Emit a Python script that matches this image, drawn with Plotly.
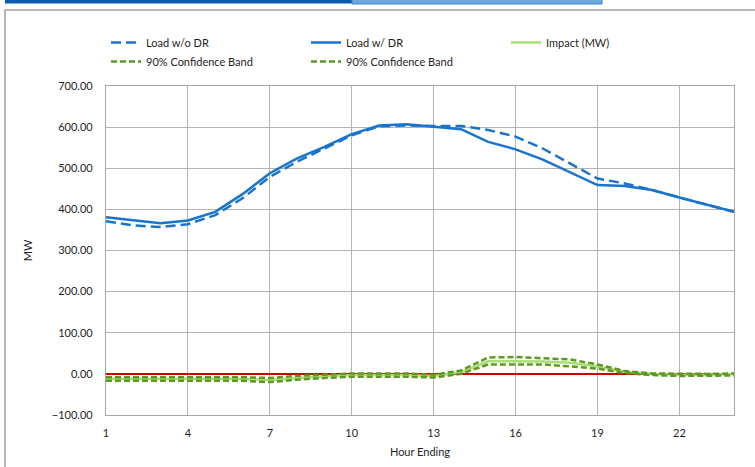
import plotly.graph_objects as go

# Hourly load profile (MW) for hour ending 1..24
hours = list(range(1, 25))
load_without_dr = [371, 361, 357, 364, 386, 427, 479, 516, 548, 580, 602, 604,
                   603, 603, 593, 577, 548, 512, 475, 463, 447, 429, 412, 394]
load_with_dr = [381, 373, 366, 373, 394, 437, 488, 524, 552, 583, 604, 607,
                601, 595, 564, 546, 521, 491, 459, 457, 447, 429, 412, 394]
impact_mw = [-12, -12, -12, -12, -12, -12, -15, -10, -6, -3, -3, -3,
             -5, 4, 31, 31, 30, 27, 18, 5, 0, -2, -2, 0]
band_upper = [-8, -8, -8, -8, -8, -8, -10, -5, -2, 1, 1, 1,
              -2, 8, 40, 41, 38, 35, 23, 7, 1, 0, 0, 1]
band_lower = [-17, -17, -17, -17, -17, -17, -20, -14, -10, -7, -7, -7,
              -9, 0, 23, 23, 23, 18, 13, 2, -3, -5, -5, -4]

x_ticks = [1, 4, 7, 10, 13, 16, 19, 22]
y_ticks = [-100, 0, 100, 200, 300, 400, 500, 600, 700]

BLUE = "#1874cd"
LIGHT_GREEN = "#a9de74"
DARK_GREEN = "#5b9a1f"
RED = "#d40000"
GRID = "#b4b4b4"
FONT = "Lato"

W, H = 755, 467
ML, MR, MT, MB = 106, 21, 86, 52
PW, PH = W - ML - MR, H - MT - MB


def px(x):
    return (x - ML) / PW


def py(y):
    return (H - MB - y) / PH


fig = go.Figure()
fig.add_trace(go.Scatter(x=hours, y=load_without_dr, name="Load w/o DR", mode="lines",
                         line=dict(color=BLUE, width=2.5, dash="10px,5px")))
fig.add_trace(go.Scatter(x=hours, y=load_with_dr, name="Load w/ DR", mode="lines",
                         line=dict(color=BLUE, width=2.5)))
fig.add_trace(go.Scatter(x=hours, y=impact_mw, name="Impact (MW)", mode="lines",
                         line=dict(color=LIGHT_GREEN, width=2.5)))
fig.add_trace(go.Scatter(x=hours, y=band_upper, name="90% Confidence Band", mode="lines",
                         line=dict(color=DARK_GREEN, width=2.5, dash="6px,3px")))
fig.add_trace(go.Scatter(x=hours, y=band_lower, name="90% Confidence Band", mode="lines",
                         line=dict(color=DARK_GREEN, width=2.5, dash="6px,3px")))

axis_common = dict(showline=True, linecolor="#a6a6a6", linewidth=1.2, mirror=True,
                   showgrid=True, gridcolor=GRID, gridwidth=1, ticks="",
                   automargin=False,
                   tickfont=dict(family=FONT, size=11, color="#1e1e1e"))

fig.update_xaxes(range=[1, 24], tickmode="array", tickvals=x_ticks,
                 ticklabelstandoff=8,
                 title=dict(text="Hour Ending", font=dict(family=FONT, size=11, color="#1e1e1e"),
                            standoff=10),
                 zeroline=False, **axis_common)
fig.update_yaxes(range=[-100, 700], tickmode="array", tickvals=y_ticks, tickformat=".2f",
                 ticklabelstandoff=10,
                 title=dict(text="MW", font=dict(family=FONT, size=11, color="#1e1e1e"),
                            standoff=16),
                 zeroline=True, zerolinecolor=RED, zerolinewidth=2.2, **axis_common)

shapes = [
    # outer chart frame
    dict(type="rect", xref="paper", yref="paper", x0=px(5), x1=px(W + 10),
         y0=py(H + 10), y1=py(10), line=dict(color="#a0a0a0", width=1.5),
         fillcolor="rgba(0,0,0,0)", layer="below"),
    # header bar above the frame
    dict(type="rect", xref="paper", yref="paper", x0=px(5), x1=px(352),
         y0=py(3.5), y1=py(-2), line=dict(width=0), fillcolor="#0b5cad"),
    dict(type="rect", xref="paper", yref="paper", x0=px(352), x1=px(602),
         y0=py(4), y1=py(-2), line=dict(color="#3d86cc", width=1), fillcolor="#6ea7de"),
]

fig.update_layout(
    width=W, height=H,
    margin=dict(l=ML, r=MR, t=MT, b=MB, autoexpand=False),
    paper_bgcolor="white", plot_bgcolor="white",
    font=dict(family=FONT, size=11, color="#1e1e1e"),
    shapes=shapes,
    showlegend=True,
    legend=dict(orientation="h", x=px(106), y=py(28), xanchor="left", yanchor="top",
                entrywidth=155, bgcolor="rgba(0,0,0,0)",
                font=dict(family=FONT, size=11, color="#1e1e1e"),
                tracegroupgap=0, itemwidth=30),
)

fig.write_html("out.html")
